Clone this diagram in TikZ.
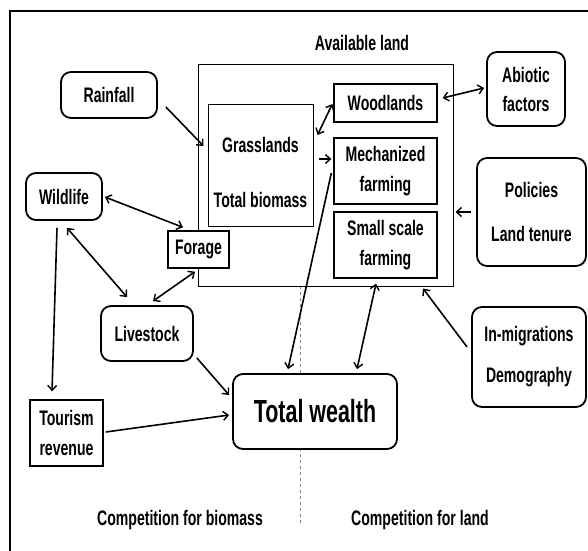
\documentclass[tikz,border=0pt]{standalone}
\usepackage{fontspec}
\setmainfont{Liberation Sans}[FakeStretch=0.67]
\usetikzlibrary{arrows.meta}
\begin{document}
\begin{tikzpicture}[x=1pt,y=-1pt,
  every node/.style={font=\fontsize{21}{22}\selectfont\bfseries, inner sep=0pt, align=center},
  rbox/.style={draw, line width=1.8pt, rounded corners=10pt, fill=white},
  sbox/.style={draw, line width=1.3pt, fill=white},
  arr/.style={line width=1.6pt, -{Straight Barb[length=5pt,width=9pt,line width=1.4pt]}},
  darr/.style={line width=1.6pt, {Straight Barb[length=5pt,width=9pt,line width=1.4pt]}-{Straight Barb[length=5pt,width=9pt,line width=1.4pt]}}]
\useasboundingbox (0,0) rectangle (588,550);
% outer frame (cropped)
\draw[line width=1.5pt] (10,552) -- (10,11) -- (590,11);
% divider
\draw[gray, dashed, line width=0.8pt] (300,286) -- (300,524);
% available land
\node[draw, line width=1pt, minimum width=255pt, minimum height=222pt] (avail) at (325.5,175) {};
\node (availlbl) at (362,43) {Available land};
\node[draw, line width=1pt, minimum width=105pt, minimum height=122pt] (grass) at (260.5,165) {};
\node (grasst) at (260.5,145) {Grasslands};
\node (biomt) at (260.5,200) {Total biomass};
\node[sbox, minimum width=103pt, minimum height=38pt] (wood) at (385.5,103) {Woodlands};
\node[sbox, minimum width=103pt, minimum height=66pt] (mech) at (385.5,171) {Mechanized\\[8pt]farming};
\node[sbox, minimum width=103pt, minimum height=66pt] (small) at (385.5,245) {Small scale\\[8pt]farming};
% outside boxes
\node[rbox, minimum width=96pt, minimum height=46pt] (rain) at (109,95) {Rainfall};
\node[rbox, minimum width=78pt, minimum height=74pt] (abio) at (526,89) {Abiotic\\[7pt]factors};
\node[rbox, minimum width=109pt, minimum height=108pt] (pol) at (531.5,212) {Policies\\[22pt]Land tenure};
\node[rbox, minimum width=114pt, minimum height=100pt] (inmig) at (529,357) {In-migrations\\[19pt]Demography};
\node[rbox, minimum width=76pt, minimum height=47pt] (wild) at (64,196.5) {Wildlife};
\node[sbox, minimum width=61pt, minimum height=37pt] (forage) at (198.5,249.5) {Forage};
\node[rbox, minimum width=92pt, minimum height=55pt] (live) at (147,333.5) {Livestock};
\node[sbox, minimum width=73pt, minimum height=66pt] (tour) at (66.5,433) {Tourism\\[8pt]revenue};
\node[rbox, minimum width=164pt, minimum height=75pt, font=\fontsize{32}{34}\selectfont\bfseries] (wealth) at (315,411.5) {Total wealth};
\node (compb) at (180,520) {Competition for biomass};
\node (compl) at (420,520) {Competition for land};
% connectors
\draw[arr] ([shift={(8,12)}]rain.east) -- ([shift={(-4,-19)}]grass.west);
\draw[darr] ([shift={(4,-30)}]grass.east) -- ([shift={(-1,1)}]wood.west);
\draw[arr] ([shift={(5,-6)}]grass.east) -- ([shift={(-2,-12)}]mech.west);
\draw[darr] ([shift={(5,-5)}]wood.east) -- ([shift={(-2,-1)}]abio.west);
\draw[arr] ([shift={(-5,0)}]pol.west) -- ([shift={(2,37)}]avail.east);
\draw[arr] ([shift={(-4,-10)}]inmig.west) -- ([shift={(97.5,2)}]avail.south);
\draw[darr] ([shift={(2,0.5)}]wild.east) -- ([shift={(-15.5,-3)}]forage.north);
\draw[darr] ([shift={(3,7)}]wild.south) -- ([shift={(-20,-8)}]live.north);
\draw[darr] ([shift={(-3.5,3)}]forage.south) -- ([shift={(6,-4)}]live.north);
\draw[arr] ([shift={(-7,7)}]wild.south) -- ([shift={(-14.5,-8)}]tour.north);
\draw[arr] ([shift={(3,24.5)}]live.east) -- ([shift={(-3,-16.5)}]wealth.west);
\draw[arr] ([shift={(2,-1)}]tour.east) -- ([shift={(-3,3.5)}]wealth.west);
\draw[arr] ([shift={(-2,2)}]mech.west) -- ([shift={(-27,-4)}]wealth.north);
\draw[darr] ([shift={(-9.5,5)}]small.south) -- ([shift={(42,-4)}]wealth.north);
\end{tikzpicture}
\end{document}
